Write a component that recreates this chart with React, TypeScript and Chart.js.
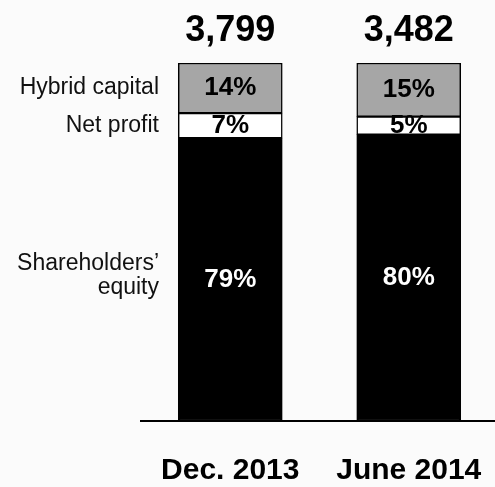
import React, { useEffect, useRef } from "react";
import { Chart, registerables } from "chart.js";

Chart.register(...registerables);

const categories = ["Dec. 2013", "June 2014"];
const totals = ["3,799", "3,482"];
const equityShare = [79, 80];
const netProfitShare = [7, 5];
const hybridShare = [14, 15];
const seriesLabels = [["Shareholders’", "equity"], ["Net profit"], ["Hybrid capital"]];
const seriesColors = ["#000000", "#ffffff", "#a6a6a6"];
const labelColors = ["#ffffff", "#000000", "#000000"];

const FONT = "'Liberation Sans', Arial, Helvetica, sans-serif";

const labelPlugin = {
  id: "segmentLabels",
  afterDatasetsDraw(chart: any) {
    const ctx = chart.ctx;
    const area = chart.chartArea;
    ctx.save();
    chart.data.datasets.forEach((ds: any, i: number) => {
      const meta = chart.getDatasetMeta(i);
      meta.data.forEach((el: any, j: number) => {
        const p = el.getProps(["x", "y", "base"], true);
        ctx.font = `bold 26px ${FONT}`;
        ctx.fillStyle = labelColors[i];
        ctx.textAlign = "center";
        ctx.textBaseline = "middle";
        ctx.fillText(`${ds.data[j]}%`, p.x, (p.y + p.base) / 2);
      });
      const first = meta.data[0].getProps(["y", "base"], true);
      const lines = seriesLabels[i];
      const cy = (first.y + first.base) / 2 - (lines.length > 1 ? 4 : 0);
      const lh = 24;
      ctx.font = `23px ${FONT}`;
      ctx.fillStyle = "#111111";
      ctx.textAlign = "right";
      ctx.textBaseline = "middle";
      lines.forEach((line: string, k: number) => {
        ctx.fillText(line, area.left + 18, cy + (k - (lines.length - 1) / 2) * lh);
      });
    });
    const topMeta = chart.getDatasetMeta(chart.data.datasets.length - 1);
    topMeta.data.forEach((el: any, j: number) => {
      const p = el.getProps(["x", "y"], true);
      ctx.font = `bold 36px ${FONT}`;
      ctx.fillStyle = "#000000";
      ctx.textAlign = "center";
      ctx.textBaseline = "alphabetic";
      ctx.fillText(totals[j], p.x, p.y - 22);
    });
    ctx.restore();
  },
};

export default function App() {
  const canvasRef = useRef<HTMLCanvasElement>(null);

  useEffect(() => {
    if (!canvasRef.current) return;
    const chart = new Chart(canvasRef.current, {
      type: "bar",
      data: {
        labels: categories,
        datasets: [
          { label: "Shareholders’ equity", data: equityShare, backgroundColor: seriesColors[0] },
          { label: "Net profit", data: netProfitShare, backgroundColor: seriesColors[1] },
          { label: "Hybrid capital", data: hybridShare, backgroundColor: seriesColors[2] },
        ].map((d) => ({
          ...d,
          borderColor: "#000000",
          borderWidth: 1.5,
          borderSkipped: false,
          barThickness: 104,
        })),
      },
      options: {
        animation: false,
        responsive: false,
        maintainAspectRatio: false,
        devicePixelRatio: 1,
        layout: { padding: { top: 63, left: 141, right: 0, bottom: -34 } },
        plugins: { legend: { display: false }, tooltip: { enabled: false }, title: { display: false } },
        scales: {
          x: {
            stacked: true,
            offset: true,
            grid: { display: false, drawTicks: false },
            border: { display: true, color: "#000000", width: 2 },
            ticks: {
              color: "#000000",
              padding: 0,
              font: { family: FONT, size: 30, weight: "bold", lineHeight: 100 / 30 },
            },
          },
          y: {
            stacked: true,
            display: false,
            min: 0,
            max: 100,
          },
        },
      },
      plugins: [labelPlugin],
    });
    return () => chart.destroy();
  }, []);

  return (
    <div style={{ position: "fixed", left: 0, top: 0, width: 495, height: 487, overflow: "hidden", background: "#fbfbfb" }}>
      <canvas ref={canvasRef} width={498} height={487} style={{ display: "block", width: 498, height: 487 }} />
    </div>
  );
}
